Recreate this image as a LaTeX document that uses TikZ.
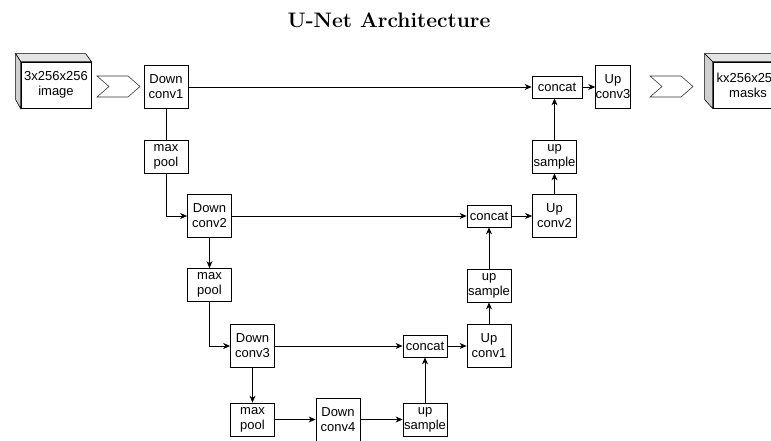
\documentclass[tikz,border=0pt]{standalone}
\usepackage{fontspec}
\usepackage{tikz}
\usetikzlibrary{arrows.meta}
\newfontfamily\blockfont{Liberation Sans}
\definecolor{edge}{HTML}{333333}
\definecolor{side}{HTML}{E4E4E4}

\begin{document}
\begin{tikzpicture}[x=1pt,y=-1pt,>={Stealth[length=7pt,width=6pt]},line width=0.8pt,
  every node/.style={font=\blockfont\fontsize{13}{15}\selectfont,align=center,inner sep=0pt},
  block/.style={draw,fill=white,minimum width=44pt,minimum height=43pt},
  half/.style={draw,fill=white,minimum width=44pt,minimum height=33pt},
  cat/.style={draw,fill=white,minimum width=44pt,minimum height=22pt},
  chev/.style={draw=edge,line width=0.6pt},
  cube/.style={draw,fill=white,minimum width=70pt,minimum height=46pt}]
  \useasboundingbox (0,0) rectangle (771,440);
  \node[font=\fontsize{21}{24}\selectfont\bfseries] (title) at (389,20) {U-Net Architecture};

  \node[cube] (img) at (56,85) {3x256x256\\image};
  \filldraw[fill=side,line width=0.6pt] (img.north west) -- ++(-5,-8) -- ++(70,0) -- (img.north east) -- cycle;
  \filldraw[fill=side!80!gray,line width=0.6pt] (img.north west) -- ++(-5,-8) -- ++(0,46) -- (img.south west) -- cycle;
  \coordinate (s1) at (118.5,86.5);
  \draw[chev] (s1) ++(-21.5,-10.5) -- ++(31,0) -- ++(12,10.5) -- ++(-12,10.5) -- ++(-31,0) -- ++(12,-10.5) -- cycle;

  \node[block] (dc1) at (166,87) {Down\\conv1};
  \node[half] (mp1) at (166,157) {max\\pool};
  \node[block] (dc2) at (209.5,216) {Down\\conv2};
  \node[half] (mp2) at (209.5,285) {max\\pool};
  \node[block] (dc3) at (252.5,346) {Down\\conv3};
  \node[half] (mp3) at (252.5,419.5) {max\\pool};
  \node[block] (dc4) at (338,419.5) {Down\\conv4};
  \node[half] (us3) at (425,419.5) {up\\sample};
  \node[cat] (cc3) at (425,346) {concat};
  \node[block] (uc1) at (489,346) {Up\\conv1};
  \node[half] (us2) at (489,285.5) {up\\sample};
  \node[cat] (cc2) at (489,216) {concat};
  \node[block] (uc2) at (554.5,216) {Up\\conv2};
  \node[half] (us1) at (554.5,156.5) {up\\sample};
  \node[cat,minimum width=50pt] (cc1) at (557,87) {concat};
  \node[block,minimum width=34pt] (uc3) at (613,87) {Up\\conv3};

  \coordinate (s2) at (671.5,86.5);
  \draw[chev] (s2) ++(-21.5,-10.5) -- ++(31,0) -- ++(12,10.5) -- ++(-12,10.5) -- ++(-31,0) -- ++(12,-10.5) -- cycle;
  \node[cube] (out) at (748,85) {kx256x256\\masks};
  \filldraw[fill=side,line width=0.6pt] (out.north west) -- ++(-8,-8) -- ++(70,0) -- (out.north east) -- cycle;
  \filldraw[fill=side!80!gray,line width=0.6pt] (out.north west) -- ++(-8,-8) -- ++(0,46) -- (out.south west) -- cycle;

  \draw[->] (dc1) -- (cc1);
  \draw (dc1) -- (mp1);
  \draw[->] (mp1.south) |- (dc2.west);
  \draw[->] (dc2) -- (cc2);
  \draw[->] (dc2) -- (mp2);
  \draw[->] (mp2.south) |- (dc3.west);
  \draw[->] (dc3) -- (cc3);
  \draw[->] (dc3) -- (mp3);
  \draw[->] (mp3) -- (dc4);
  \draw[->] (dc4) -- (us3);
  \draw[->] (us3) -- (cc3);
  \draw[->] (cc3) -- (uc1);
  \draw[->] (uc1) -- (us2);
  \draw[->] (us2) -- (cc2);
  \draw[->] (cc2) -- (uc2);
  \draw[->] (uc2) -- (us1);
  \draw[->] (us1.north) -- (us1.north |- cc1.south);
  \draw[->] (cc1) -- (uc3);
\end{tikzpicture}
\end{document}
